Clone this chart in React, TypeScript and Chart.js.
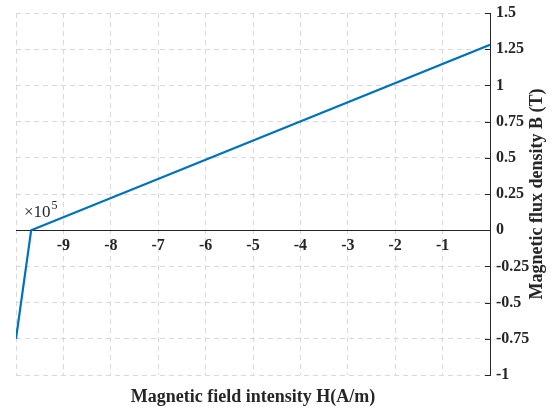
import React, { useEffect, useRef } from "react";
import { Chart, registerables } from "chart.js";

Chart.register(...registerables);

const H_VALUES = [-1000000, -968000, 0];
const B_VALUES = [-0.75, 0, 1.28];
const X_TICK_LABELS: Record<number, string> = {
  [-9]: "-9", [-8]: "-8", [-7]: "-7", [-6]: "-6", [-5]: "-5",
  [-4]: "-4", [-3]: "-3", [-2]: "-2", [-1]: "-1",
};
const X_TITLE = "Magnetic field intensity H(A/m)";
const Y_TITLE = "Magnetic flux density B (T)";

const FONT = "'Liberation Serif', 'Times New Roman', serif";
const AXIS_COLOR = "#262626";
const GRID_COLOR = "#d9d9d9";

const decorPlugin = {
  id: "decor",
  afterDraw(chart: any) {
    const ctx = chart.ctx;
    const area = chart.chartArea;
    const y = chart.scales.y;
    ctx.save();
    ctx.strokeStyle = AXIS_COLOR;
    ctx.lineWidth = 1;
    y.ticks.forEach((t: any) => {
      const py = Math.round(y.getPixelForValue(t.value)) + 0.5;
      ctx.beginPath();
      ctx.moveTo(area.right - 5, py);
      ctx.lineTo(area.right, py);
      ctx.stroke();
    });
    ctx.fillStyle = AXIS_COLOR;
    ctx.font = `bold 18px ${FONT}`;
    ctx.textAlign = "center";
    ctx.textBaseline = "middle";
    ctx.fillText(X_TITLE, (area.left + area.right) / 2, 397);
    ctx.save();
    ctx.translate(537, (area.top + area.bottom) / 2);
    ctx.rotate(-Math.PI / 2);
    ctx.fillText(Y_TITLE, 0, 0);
    ctx.restore();
    ctx.textAlign = "left";
    ctx.textBaseline = "alphabetic";
    ctx.font = `17px ${FONT}`;
    ctx.fillText("\u00d710", 24, 217);
    const w = ctx.measureText("\u00d710").width;
    ctx.font = `12px ${FONT}`;
    ctx.fillText("5", 24 + w + 1, 209);
    ctx.restore();
  },
};

export default function App() {
  const ref = useRef<HTMLCanvasElement>(null);
  useEffect(() => {
    document.body.style.margin = "0";
    const chart = new Chart(ref.current!, {
      type: "line",
      data: {
        datasets: [
          {
            data: H_VALUES.map((h, i) => ({ x: h, y: B_VALUES[i] })),
            borderColor: "#0072BD",
            borderWidth: 2.2,
            pointRadius: 0,
            fill: false,
            tension: 0,
          },
        ],
      },
      options: {
        animation: false,
        responsive: false,
        maintainAspectRatio: false,
        layout: { padding: { left: 16, top: 13, bottom: 33, right: 0 } },
        plugins: { legend: { display: false }, tooltip: { enabled: false } },
        scales: {
          x: {
            type: "linear",
            min: -1000000,
            max: 0,
            position: { y: 0 } as any,
            afterFit: (s: any) => {
              s.paddingLeft = 0;
              s.paddingRight = 0;
            },
            ticks: {
              stepSize: 100000,
              autoSkip: false,
              maxRotation: 0,
              padding: 6,
              color: AXIS_COLOR,
              font: { family: FONT, size: 16, weight: "bold" },
              callback: (v: any) => X_TICK_LABELS[Math.round(Number(v) / 100000)] ?? "",
            },
            grid: { color: GRID_COLOR, drawTicks: false, lineWidth: 1 },
            border: { display: true, color: AXIS_COLOR, width: 1, dash: [5, 4] },
          },
          y: {
            type: "linear",
            position: "right",
            min: -1,
            max: 1.5,
            afterFit: (s: any) => {
              s.width = 63;
              s.paddingTop = 0;
              s.paddingBottom = 0;
            },
            ticks: {
              stepSize: 0.25,
              padding: 6,
              color: AXIS_COLOR,
              font: { family: FONT, size: 16, weight: "bold" },
              callback: (v: any) => String(Number(v)),
            },
            grid: { color: GRID_COLOR, drawTicks: false, lineWidth: 1 },
            border: { display: true, color: AXIS_COLOR, width: 1, dash: [5, 4] },
          },
        },
      } as any,
      plugins: [decorPlugin],
    });
    return () => chart.destroy();
  }, []);
  return (
    <div style={{ width: 553, height: 408 }}>
      <canvas ref={ref} width={553} height={408} style={{ width: 553, height: 408 }} />
    </div>
  );
}
